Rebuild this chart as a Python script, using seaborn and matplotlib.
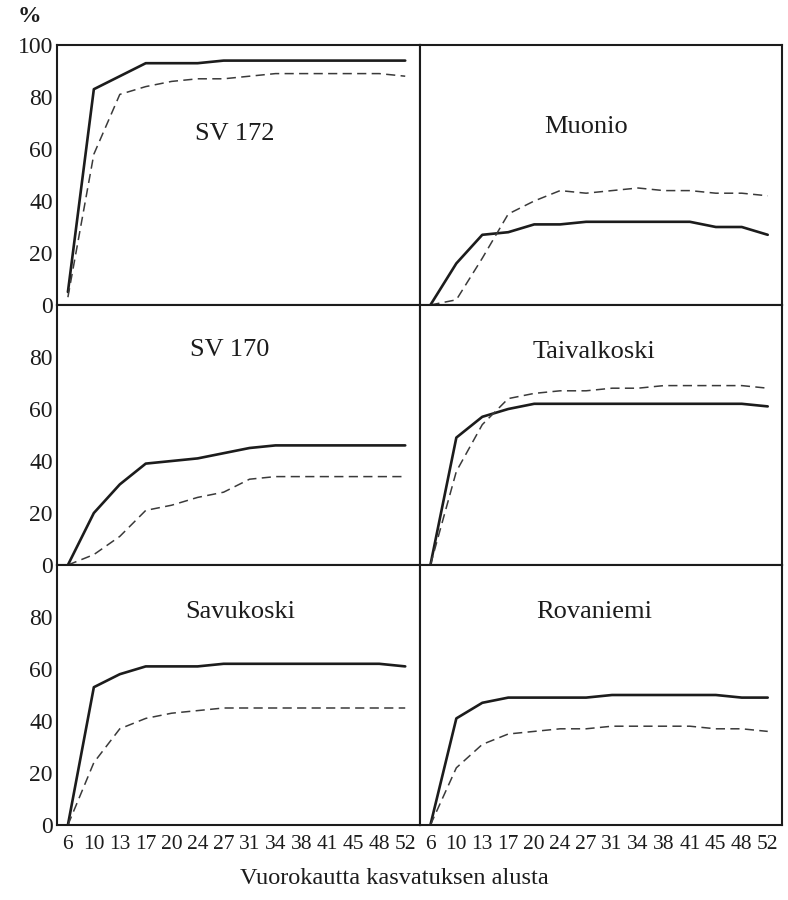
import matplotlib
matplotlib.use("Agg")
import matplotlib.pyplot as plt
import seaborn as sns
import pandas as pd

# Days since the start of cultivation (equally spaced tick positions)
days = [6, 10, 13, 17, 20, 24, 27, 31, 34, 38, 41, 45, 48, 52]

# Panel order: left to right, top to bottom
sites = ["SV 172", "Muonio", "SV 170", "Taivalkoski", "Savukoski", "Rovaniemi"]

# Solid-line series, %
sv172_solid = [5, 83, 88, 93, 93, 93, 94, 94, 94, 94, 94, 94, 94, 94]
muonio_solid = [0, 16, 27, 28, 31, 31, 32, 32, 32, 32, 32, 30, 30, 27]
sv170_solid = [0, 20, 31, 39, 40, 41, 43, 45, 46, 46, 46, 46, 46, 46]
taivalkoski_solid = [0, 49, 57, 60, 62, 62, 62, 62, 62, 62, 62, 62, 62, 61]
savukoski_solid = [0, 53, 58, 61, 61, 61, 62, 62, 62, 62, 62, 62, 62, 61]
rovaniemi_solid = [0, 41, 47, 49, 49, 49, 49, 50, 50, 50, 50, 50, 49, 49]

# Dashed-line series, %
sv172_dashed = [3, 58, 81, 84, 86, 87, 87, 88, 89, 89, 89, 89, 89, 88]
muonio_dashed = [0, 2, 18, 35, 40, 44, 43, 44, 45, 44, 44, 43, 43, 42]
sv170_dashed = [0, 4, 11, 21, 23, 26, 28, 33, 34, 34, 34, 34, 34, 34]
taivalkoski_dashed = [0, 36, 54, 64, 66, 67, 67, 68, 68, 69, 69, 69, 69, 68]
savukoski_dashed = [0, 24, 37, 41, 43, 44, 45, 45, 45, 45, 45, 45, 45, 45]
rovaniemi_dashed = [0, 22, 31, 35, 36, 37, 37, 38, 38, 38, 38, 37, 37, 36]

solid = [sv172_solid, muonio_solid, sv170_solid,
         taivalkoski_solid, savukoski_solid, rovaniemi_solid]
dashed = [sv172_dashed, muonio_dashed, sv170_dashed,
          taivalkoski_dashed, savukoski_dashed, rovaniemi_dashed]

# Label placement inside each panel (x in tick positions, y in %)
label_pos = [(6.44, 65.7), (6.0, 68.3), (6.25, 82.7), (6.32, 81.9),
             (6.66, 81.9), (6.32, 81.9)]

y_ticks = [0, 20, 40, 60, 80, 100]
x_label = "Vuorokautta kasvatuksen alusta"

sns.set_style("white")
plt.rcParams["font.family"] = ["Liberation Serif", "DejaVu Serif"]

ink = "#1c1c1c"
fig = plt.figure(figsize=(7.88, 9.0), dpi=100)

left0, width = 57 / 788, 362.5 / 788
top0, height = 45 / 900, 260 / 900

pos = list(range(len(days)))
for i, site in enumerate(sites):
    row, col = divmod(i, 2)
    ax = fig.add_axes([left0 + col * width,
                       1 - top0 - (row + 1) * height,
                       width, height])
    df = pd.DataFrame({"pos": pos, "solid": solid[i], "dashed": dashed[i]})
    sns.lineplot(data=df, x="pos", y="solid", ax=ax, color=ink,
                 linewidth=1.9, estimator=None)
    sns.lineplot(data=df, x="pos", y="dashed", ax=ax, color="#3a3a3a",
                 linewidth=1.1, linestyle=(0, (6, 3.5)), estimator=None)
    ax.set_xlim(-0.42, 13.55)
    ax.set_ylim(0, 100)
    ax.set_xlabel("")
    ax.set_ylabel("")
    ax.set_xticks(pos)
    ax.set_yticks(y_ticks)
    ax.tick_params(direction="in", length=5, width=1.2, color=ink,
                   labelsize=17, labelcolor=ink, pad=3)
    ax.tick_params(axis="x", labelsize=15.5, pad=7)
    for sp in ax.spines.values():
        sp.set_visible(True)
        sp.set_linewidth(1.5)
        sp.set_color(ink)
    if col == 0:
        labels = [str(v) for v in y_ticks]
        if row > 0:
            labels[-1] = ""
        ax.set_yticklabels(labels)
    else:
        ax.set_yticklabels([])
    if row == 2:
        ax.set_xticklabels([str(d) for d in days])
    else:
        ax.set_xticklabels([])
    ax.text(label_pos[i][0], label_pos[i][1], site, ha="center", va="center",
            fontsize=19, color=ink)

fig.text(18 / 788, 1 - 17 / 900, "%", fontsize=17, fontweight="bold",
         color=ink, ha="left", va="center")
fig.text(0.5, 1 - 878 / 900, x_label, fontsize=17.5, color=ink,
         ha="center", va="center")

fig.savefig("out.png", dpi=100, facecolor="white")
